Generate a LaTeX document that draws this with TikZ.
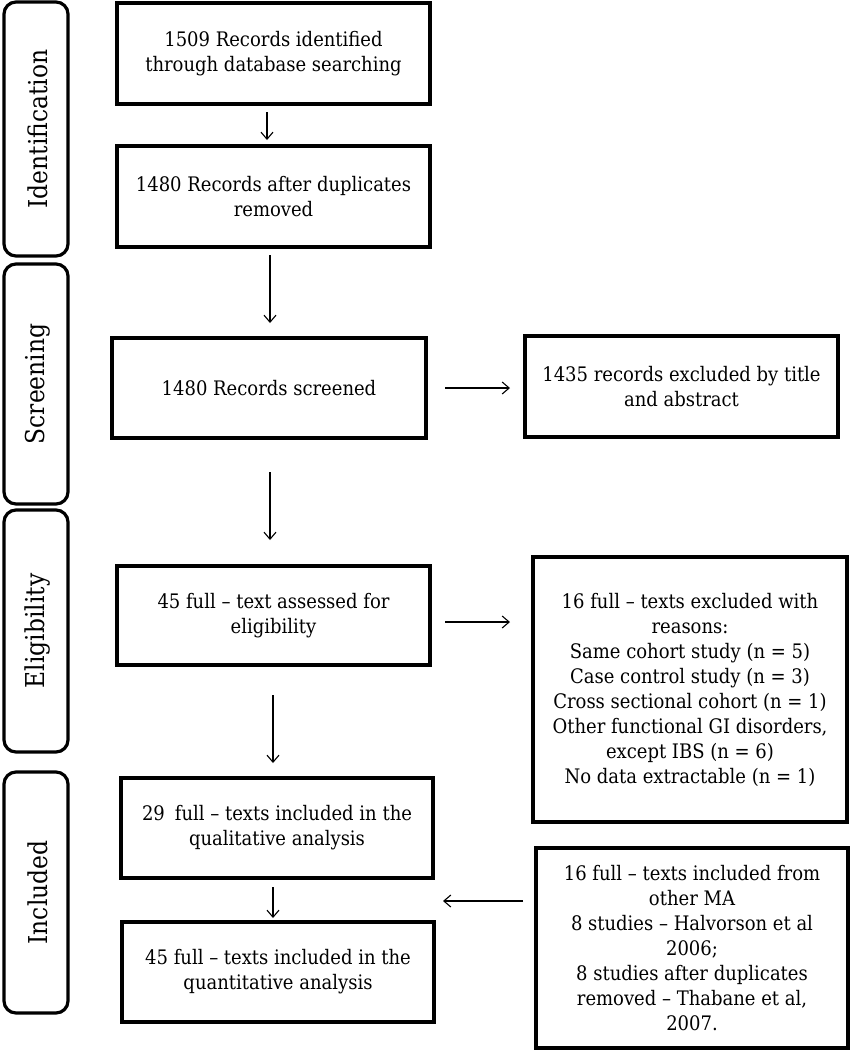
\documentclass[tikz,border=0pt]{standalone}
\usepackage{fontspec}
\setmainfont{DejaVu Serif Condensed}
\usetikzlibrary{arrows.meta}
\begin{document}
\begin{tikzpicture}[x=1pt,y=-1pt,
  mainbox/.style={draw,line width=3.2pt,align=center,inner sep=0pt,
    font=\fontsize{20}{25}\selectfont},
  sidebox/.style={draw,line width=3.2pt,rounded corners=12pt,inner sep=0pt},
  sidelabel/.style={rotate=90,font=\fontsize{26}{30}\selectfont},
  arr/.style={line width=1.1pt,-{Straight Barb[length=7pt,width=12pt]}}]
\useasboundingbox (0,0) rectangle (851,1050);
% side labels
\node[sidebox,minimum width=64pt,minimum height=254pt] (sid) at (36,129) {};
\node[sidelabel] (tid) at (38,129) {Identification};
\node[sidebox,minimum width=64pt,minimum height=240pt] (ssc) at (36,384) {};
\node[sidelabel] (tsc) at (38,384) {Screening};
\node[sidebox,minimum width=64pt,minimum height=242pt] (sel) at (36,631) {};
\node[sidelabel] (tel) at (38,631) {Eligibility};
\node[sidebox,minimum width=64pt,minimum height=241pt] (sin) at (36,892.5) {};
\node[sidelabel] (tin) at (38,892.5) {Included};
% main boxes
\node[mainbox,minimum width=313pt,minimum height=101pt] (b1) at (273.5,53.5)
  {1509 Records identified\\through database searching};
\node[mainbox,minimum width=313pt,minimum height=101pt] (b2) at (273.5,196.5)
  {1480 Records after duplicates\\removed};
\node[mainbox,minimum width=314pt,minimum height=100pt] (b3) at (269,388)
  {1480 Records screened};
\node[mainbox,minimum width=313pt,minimum height=99pt] (b4) at (273.5,615.5)
  {45 full -- text assessed for\\eligibility};
\node[mainbox,minimum width=312pt,minimum height=100pt] (b5) at (277,828)
  {29\enspace full -- texts included in the\\qualitative analysis};
\node[mainbox,minimum width=312pt,minimum height=100pt] (b6) at (278,972)
  {45 full -- texts included in the\\quantitative analysis};
% right boxes
\node[mainbox,minimum width=313pt,minimum height=101pt] (r1) at (681.5,386.5)
  {1435 records excluded by title\\and abstract};
\node[mainbox,minimum width=314pt,minimum height=265pt] (r2) at (690,689.5)
  {16 full -- texts excluded with\\reasons:\\Same cohort study (n = 5)\\Case control study (n = 3)\\Cross sectional cohort (n = 1)\\Other functional GI disorders,\\except IBS (n = 6)\\No data extractable (n = 1)};
\node[mainbox,minimum width=312pt,minimum height=200pt] (r3) at (692,948)
  {16 full -- texts included from\\other MA\\8 studies -- Halvorson et al\\2006;\\8 studies after duplicates\\removed -- Thabane et al,\\2007.};
% connectors
\coordinate (a1s) at (267,112); \coordinate (a1e) at (267,140);
\draw[arr] (a1s) -- (a1e);
\coordinate (a2s) at (270,255); \coordinate (a2e) at (270,323);
\draw[arr] (a2s) -- (a2e);
\coordinate (a3s) at (270,472); \coordinate (a3e) at (270,540);
\draw[arr] (a3s) -- (a3e);
\coordinate (a4s) at (273,695); \coordinate (a4e) at (273,763);
\draw[arr] (a4s) -- (a4e);
\coordinate (a5s) at (273,887); \coordinate (a5e) at (273,918);
\draw[arr] (a5s) -- (a5e);
\coordinate (h1s) at (445,388); \coordinate (h1e) at (510,388);
\draw[arr] (h1s) -- (h1e);
\coordinate (h2s) at (445,622); \coordinate (h2e) at (510,622);
\draw[arr] (h2s) -- (h2e);
\coordinate (h3s) at (523,901); \coordinate (h3e) at (443,901);
\draw[arr] (h3s) -- (h3e);
\end{tikzpicture}
\end{document}
